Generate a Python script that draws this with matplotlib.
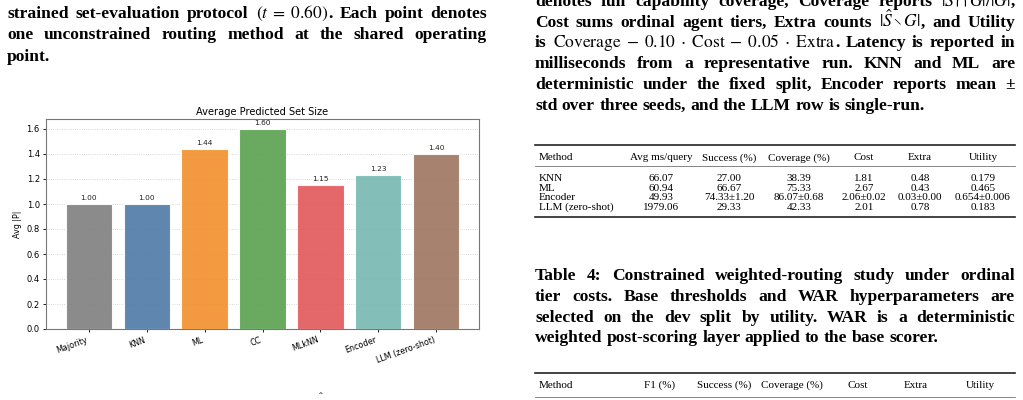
import numpy as np
import matplotlib
matplotlib.use("Agg")
from matplotlib import pyplot as plt
from matplotlib.lines import Line2D

plt.rcParams['mathtext.fontset'] = 'stix'

# chart data
methods = ["Majority", "KNN", "ML", "CC", "MLkNN", "Encoder", "LLM (zero-shot)"]
avg_set_size = [1.00, 1.00, 1.44, 1.60, 1.15, 1.23, 1.40]
bar_colors = ["#7f7f7f", "#4e79a7", "#f28e2b", "#59a14f", "#e15759", "#76b7b2", "#9c755f"]

# table 3 data
t3_header = ["Method", "Avg ms/query", "Success (%)", "Coverage (%)", "Cost", "Extra", "Utility"]
t3_methods = ["KNN", "ML", "Encoder", "LLM (zero-shot)"]
t3_latency = ["66.07", "60.94", "49.93", "1979.06"]
t3_success = ["27.00", "66.67", "74.33±1.20", "29.33"]
t3_coverage = ["38.39", "75.33", "86.07±0.68", "42.33"]
t3_cost = ["1.81", "2.67", "2.06±0.02", "2.01"]
t3_extra = ["0.48", "0.43", "0.03±0.00", "0.78"]
t3_utility = ["0.179", "0.465", "0.654±0.006", "0.183"]

# table 4 header (only the header is visible)
t4_header = ["Method", "F1 (%)", "Success (%)", "Coverage (%)", "Cost", "Extra", "Utility"]

# caption text, line by line: (text, weight); "$...$" pieces stay in one word
left_par = [
    [("strained set-evaluation protocol ", "bold"), (r"$(t\;=\;0.60)$", "normal"), (". Each point denotes", "bold")],
    [("one unconstrained routing method at the shared operating", "bold")],
    [("point.", "bold")],
]
right_par = [
    [("denotes full capability coverage, Coverage reports ", "bold"), (r"$|\hat{S}\cap G|/|G|$", "normal"), (",", "bold")],
    [("Cost sums ordinal agent tiers, Extra counts ", "bold"), (r"$|\hat{S}\setminus G|$", "normal"), (", and Utility", "bold")],
    [("is ", "bold"),
     (r"$\mathrm{Coverage}\;-\;0.10\;\cdot\;\mathrm{Cost}\;-\;0.05\;\cdot\;\mathrm{Extra}$", "normal"),
     (". Latency is reported in", "bold")],
    [("milliseconds from a representative run. KNN and ML are", "bold")],
    [("deterministic under the fixed split, Encoder reports mean ±", "bold")],
    [("std over three seeds, and the LLM row is single-run.", "bold")],
]
table4_caption = [
    [("Table 4: Constrained weighted-routing study under ordinal", "bold")],
    [("tier costs. Base thresholds and WAR hyperparameters are", "bold")],
    [("selected on the dev split by utility. WAR is a deterministic", "bold")],
    [("weighted post-scoring layer applied to the base scorer.", "bold")],
]

W, H = 1023, 400
fig = plt.figure(figsize=(W / 100, H / 100), dpi=100)


def fx(x):
    return x / W


def fy(y):
    return 1 - y / H


SERIF = "Liberation Serif"
BODY = 12.6


def split_words(segs):
    words = []
    glue = False
    for text, wt in segs:
        parts = [text] if text.startswith("$") else text.split(" ")
        for i, p in enumerate(parts):
            if p == "":
                continue
            if i == 0 and glue and words:
                words[-1].append((p, wt))
            else:
                words.append([(p, wt)])
        glue = not text.endswith(" ")
    return words


def draw_par(lines, x0, x1, y0, dy, size):
    renderer = fig.canvas.get_renderer()
    for k, segs in enumerate(lines):
        y = y0 + k * dy
        words = []
        for w in split_words(segs):
            objs = []
            for txt, wt in w:
                t = fig.text(0, fy(y), txt, fontsize=size, fontweight=wt,
                             family=SERIF, va="baseline", ha="left")
                objs.append((t, t.get_window_extent(renderer).width))
            words.append(objs)
        total = sum(wd for w in words for _, wd in w)
        if k < len(lines) - 1 and len(words) > 1:
            gap = (x1 - x0 - total) / (len(words) - 1)
        else:
            gap = size * 100 / 72 * 0.25
        x = x0
        for w in words:
            for t, wd in w:
                t.set_x(fx(x))
                x += wd
            x += gap


draw_par(left_par, 7, 487, 18, 21.3, BODY)
draw_par(right_par, 535, 1015, 6, 20.7, BODY)
draw_par(table4_caption, 535, 1015, 280, 20.8, BODY)

# small hat cut off at the bottom of the left column
fig.text(fx(321), fy(398), "ˆ", fontsize=8, family=SERIF, ha="center", va="center")

# ---- bar chart ----
ax = fig.add_axes([fx(46), fy(329), (479 - 46) / W, (329 - 119) / H])
x = np.arange(len(methods))
ax.bar(x, avg_set_size, width=0.8, color=bar_colors, alpha=0.9,
       edgecolor="white", linewidth=0.8, zorder=3)
for xi, v in zip(x, avg_set_size):
    ax.text(xi, v + 0.025, f"{v:.2f}", ha="center", va="bottom", fontsize=5.3, color="#222222")
ax.set_ylim(0, 1.68)
ax.set_yticks(np.arange(0, 1.61, 0.2))
ax.set_xticks(x)
ax.set_xticklabels(methods, rotation=20, ha="right", fontsize=5.8)
ax.tick_params(axis="y", labelsize=6, length=2.5, width=0.6, pad=2)
ax.tick_params(axis="x", length=2.5, width=0.6, pad=2)
ax.set_ylabel("Avg |P|", fontsize=5.8, labelpad=3)
ax.set_title("Average Predicted Set Size", fontsize=7.1, pad=3)
ax.grid(axis="y", linestyle=":", color="#cccccc", linewidth=0.6, zorder=0)
for s in ax.spines.values():
    s.set_color("#777777")
    s.set_linewidth(0.8)

# ---- tables ----
TS = 8
rx0, rx1 = 535, 1015


def rule(y, lw, color="#222222"):
    fig.add_artist(Line2D([fx(rx0), fx(rx1)], [fy(y), fy(y)], transform=fig.transFigure,
                          linewidth=lw, color=color))


t3_cols = [539, 661, 729, 799, 864, 920, 983]
rule(145, 1.2)
rule(166, 0.5, "#555555")
rule(217, 1.2)
for j, h in enumerate(t3_header):
    fig.text(fx(t3_cols[j]), fy(160.5), h, fontsize=TS, family=SERIF,
             ha="left" if j == 0 else "center", va="baseline")
columns = [t3_methods, t3_latency, t3_success, t3_coverage, t3_cost, t3_extra, t3_utility]
row_y = [181, 190.5, 200, 209.5]
for j, col in enumerate(columns):
    for i, val in enumerate(col):
        fig.text(fx(t3_cols[j]), fy(row_y[i]), val, fontsize=TS, family=SERIF,
                 ha="left" if j == 0 else "center", va="baseline")

t4_cols = [539, 660, 724, 792, 858, 916, 980]
rule(373, 1.2)
rule(397, 0.5, "#555555")
for j, h in enumerate(t4_header):
    fig.text(fx(t4_cols[j]), fy(388), h, fontsize=TS, family=SERIF,
             ha="left" if j == 0 else "center", va="baseline")

fig.savefig("out.png", dpi=100)
